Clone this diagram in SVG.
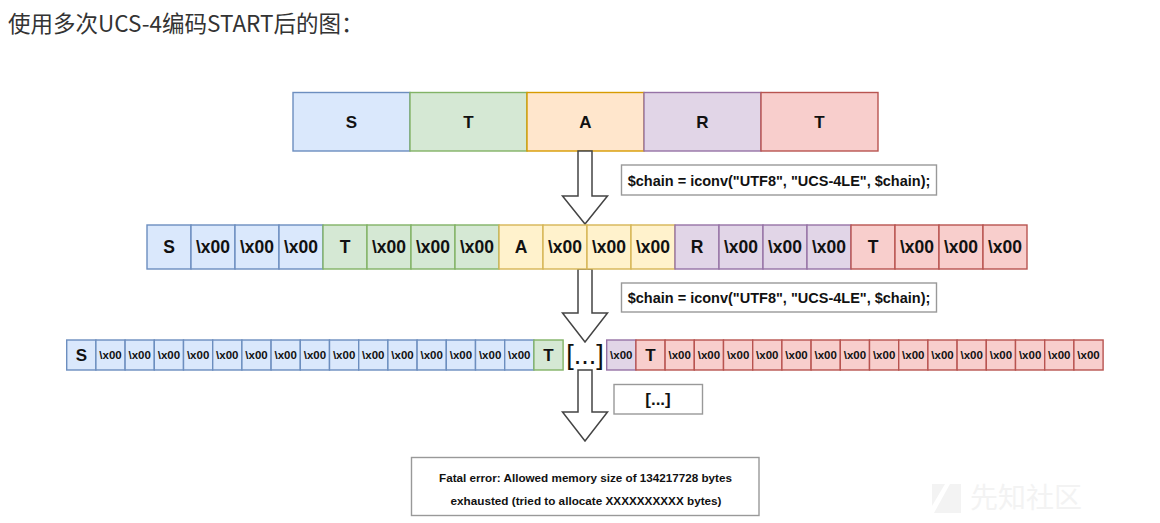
<svg xmlns="http://www.w3.org/2000/svg" width="1160" height="523" viewBox="0 0 1160 523">
<style>
text{font-family:"Liberation Sans",Arial,Helvetica,sans-serif;font-weight:bold;fill:#111;text-anchor:middle}
.title{font-family:"Noto Sans CJK SC","Noto Sans",sans-serif;font-weight:normal;font-size:22.5px;fill:#333;text-anchor:start}
.b{fill:#dae8fc;stroke:#6c8ebf}
.g{fill:#d5e8d4;stroke:#82b366}
.o{fill:#ffe6cc;stroke:#d79b00}
.y{fill:#fff2cc;stroke:#d6b656}
.p{fill:#e1d5e7;stroke:#9673a6}
.r{fill:#f8cecc;stroke:#b85450}
rect{stroke-width:1.4}
.lbl{fill:#fff;stroke:#999;stroke-width:1.4}
.t1{font-size:17px}
.t2{font-size:17.5px}
.t3{font-size:11.5px}
.t3L{font-size:17px}
.code{font-size:14.5px}
.arrow{fill:#fff;stroke:#444;stroke-width:1.5;stroke-linejoin:miter}
.wm{fill:#f3f3f3}
</style>

<text class="title" x="8" y="32">使用多次UCS-4编码START后的图：</text>

<g id="row1">
<g id="r1-S"><rect class="b" x="293" y="92.5" width="117" height="58.5"/><text class="t1" x="351.5" y="127.5">S</text></g>
<g id="r1-T"><rect class="g" x="410" y="92.5" width="117" height="58.5"/><text class="t1" x="468.5" y="127.5">T</text></g>
<g id="r1-A"><rect class="o" x="527" y="92.5" width="117" height="58.5"/><text class="t1" x="585.5" y="127.5">A</text></g>
<g id="r1-R"><rect class="p" x="644" y="92.5" width="117" height="58.5"/><text class="t1" x="702.5" y="127.5">R</text></g>
<g id="r1-T2"><rect class="r" x="761" y="92.5" width="117" height="58.5"/><text class="t1" x="819.5" y="127.5">T</text></g>
</g>

<g id="connectors">
<path class="arrow" d="M578,151 L592,151 L592,196 L607.5,196 L585,224 L562.5,196 L578,196 Z"/>
<path class="arrow" d="M578,269 L592,269 L592,313 L607.5,313 L585,342 L562.5,313 L578,313 Z"/>
<path class="arrow" d="M578,370 L592,370 L592,412 L607.5,412 L585,441 L562.5,412 L578,412 Z"/>
</g>

<g id="label1"><rect class="lbl" x="621.5" y="165" width="315" height="30"/><text class="code" x="779" y="185.5">$chain = iconv("UTF8", "UCS-4LE", $chain);</text></g>

<g id="row2">
<rect class="b" x="147" y="225" width="44" height="44"/><text class="t2" x="169" y="253">S</text>
<rect class="b" x="191" y="225" width="44" height="44"/><text class="t2" x="213" y="253">\x00</text>
<rect class="b" x="235" y="225" width="44" height="44"/><text class="t2" x="257" y="253">\x00</text>
<rect class="b" x="279" y="225" width="44" height="44"/><text class="t2" x="301" y="253">\x00</text>
<rect class="g" x="323" y="225" width="44" height="44"/><text class="t2" x="345" y="253">T</text>
<rect class="g" x="367" y="225" width="44" height="44"/><text class="t2" x="389" y="253">\x00</text>
<rect class="g" x="411" y="225" width="44" height="44"/><text class="t2" x="433" y="253">\x00</text>
<rect class="g" x="455" y="225" width="44" height="44"/><text class="t2" x="477" y="253">\x00</text>
<rect class="y" x="499" y="225" width="44" height="44"/><text class="t2" x="521" y="253">A</text>
<rect class="y" x="543" y="225" width="44" height="44"/><text class="t2" x="565" y="253">\x00</text>
<rect class="y" x="587" y="225" width="44" height="44"/><text class="t2" x="609" y="253">\x00</text>
<rect class="y" x="631" y="225" width="44" height="44"/><text class="t2" x="653" y="253">\x00</text>
<rect class="p" x="675" y="225" width="44" height="44"/><text class="t2" x="697" y="253">R</text>
<rect class="p" x="719" y="225" width="44" height="44"/><text class="t2" x="741" y="253">\x00</text>
<rect class="p" x="763" y="225" width="44" height="44"/><text class="t2" x="785" y="253">\x00</text>
<rect class="p" x="807" y="225" width="44" height="44"/><text class="t2" x="829" y="253">\x00</text>
<rect class="r" x="851" y="225" width="44" height="44"/><text class="t2" x="873" y="253">T</text>
<rect class="r" x="895" y="225" width="44" height="44"/><text class="t2" x="917" y="253">\x00</text>
<rect class="r" x="939" y="225" width="44" height="44"/><text class="t2" x="961" y="253">\x00</text>
<rect class="r" x="983" y="225" width="44" height="44"/><text class="t2" x="1005" y="253">\x00</text>
</g>

<g id="label2"><rect class="lbl" x="621.5" y="283" width="315" height="29"/><text class="code" x="779" y="303">$chain = iconv("UTF8", "UCS-4LE", $chain);</text></g>

<g id="row3-left">
<rect class="b" x="66.7" y="340" width="29.2" height="30"/><text class="t3L" x="81.3" y="361">S</text>
<rect class="b" x="95.9" y="340" width="29.2" height="30"/><text class="t3" x="110.5" y="359">\x00</text>
<rect class="b" x="125.1" y="340" width="29.2" height="30"/><text class="t3" x="139.7" y="359">\x00</text>
<rect class="b" x="154.3" y="340" width="29.2" height="30"/><text class="t3" x="168.9" y="359">\x00</text>
<rect class="b" x="183.5" y="340" width="29.2" height="30"/><text class="t3" x="198.1" y="359">\x00</text>
<rect class="b" x="212.7" y="340" width="29.2" height="30"/><text class="t3" x="227.3" y="359">\x00</text>
<rect class="b" x="241.9" y="340" width="29.2" height="30"/><text class="t3" x="256.5" y="359">\x00</text>
<rect class="b" x="271.1" y="340" width="29.2" height="30"/><text class="t3" x="285.7" y="359">\x00</text>
<rect class="b" x="300.3" y="340" width="29.2" height="30"/><text class="t3" x="314.9" y="359">\x00</text>
<rect class="b" x="329.5" y="340" width="29.2" height="30"/><text class="t3" x="344.1" y="359">\x00</text>
<rect class="b" x="358.7" y="340" width="29.2" height="30"/><text class="t3" x="373.3" y="359">\x00</text>
<rect class="b" x="387.9" y="340" width="29.2" height="30"/><text class="t3" x="402.5" y="359">\x00</text>
<rect class="b" x="417.1" y="340" width="29.2" height="30"/><text class="t3" x="431.7" y="359">\x00</text>
<rect class="b" x="446.3" y="340" width="29.2" height="30"/><text class="t3" x="460.9" y="359">\x00</text>
<rect class="b" x="475.5" y="340" width="29.2" height="30"/><text class="t3" x="490.1" y="359">\x00</text>
<rect class="b" x="504.7" y="340" width="29.2" height="30"/><text class="t3" x="519.3" y="359">\x00</text>
<rect class="g" x="533.9" y="340" width="29.2" height="30"/><text class="t3L" x="548.5" y="361">T</text>
</g>

<g id="ellipsis"><text x="585" y="364" style="font-size:27px;font-weight:normal">[...]</text></g>

<g id="row3-right">
<rect class="p" x="606.7" y="340" width="29.2" height="30"/><text class="t3" x="621.3" y="359">\x00</text>
<rect class="r" x="635.9" y="340" width="29.2" height="30"/><text class="t3L" x="650.5" y="361">T</text>
<rect class="r" x="665.1" y="340" width="29.2" height="30"/><text class="t3" x="679.7" y="359">\x00</text>
<rect class="r" x="694.3" y="340" width="29.2" height="30"/><text class="t3" x="708.9" y="359">\x00</text>
<rect class="r" x="723.5" y="340" width="29.2" height="30"/><text class="t3" x="738.1" y="359">\x00</text>
<rect class="r" x="752.7" y="340" width="29.2" height="30"/><text class="t3" x="767.3" y="359">\x00</text>
<rect class="r" x="781.9" y="340" width="29.2" height="30"/><text class="t3" x="796.5" y="359">\x00</text>
<rect class="r" x="811.1" y="340" width="29.2" height="30"/><text class="t3" x="825.7" y="359">\x00</text>
<rect class="r" x="840.3" y="340" width="29.2" height="30"/><text class="t3" x="854.9" y="359">\x00</text>
<rect class="r" x="869.5" y="340" width="29.2" height="30"/><text class="t3" x="884.1" y="359">\x00</text>
<rect class="r" x="898.7" y="340" width="29.2" height="30"/><text class="t3" x="913.3" y="359">\x00</text>
<rect class="r" x="927.9" y="340" width="29.2" height="30"/><text class="t3" x="942.5" y="359">\x00</text>
<rect class="r" x="957.1" y="340" width="29.2" height="30"/><text class="t3" x="971.7" y="359">\x00</text>
<rect class="r" x="986.3" y="340" width="29.2" height="30"/><text class="t3" x="1000.9" y="359">\x00</text>
<rect class="r" x="1015.5" y="340" width="29.2" height="30"/><text class="t3" x="1030.1" y="359">\x00</text>
<rect class="r" x="1044.7" y="340" width="29.2" height="30"/><text class="t3" x="1059.3" y="359">\x00</text>
<rect class="r" x="1073.9" y="340" width="29.2" height="30"/><text class="t3" x="1088.5" y="359">\x00</text>
</g>

<g id="label3"><rect class="lbl" x="614" y="384.5" width="88.5" height="29.5"/><text x="658" y="405" style="font-size:17px">[...]</text></g>

<g id="fatal">
<rect class="lbl" x="411.5" y="457.5" width="347.5" height="58"/>
<text x="585.5" y="482" style="font-size:10.5px" textLength="293" lengthAdjust="spacingAndGlyphs">Fatal error: Allowed memory size of 134217728 bytes</text>
<text x="586" y="505" style="font-size:10.5px" textLength="271" lengthAdjust="spacingAndGlyphs">exhausted (tried to allocate XXXXXXXXXX bytes)</text>
</g>

<g id="watermark">
<polygon class="wm" points="932,484 945,484 932,506"/>
<polygon class="wm" points="950,484 961,484 961,513 934,513"/>
<text x="1026" y="508" style="font-family:'Noto Sans CJK SC',sans-serif;font-weight:normal;font-size:28px;fill:#f3f3f3">先知社区</text>
</g>
</svg>
